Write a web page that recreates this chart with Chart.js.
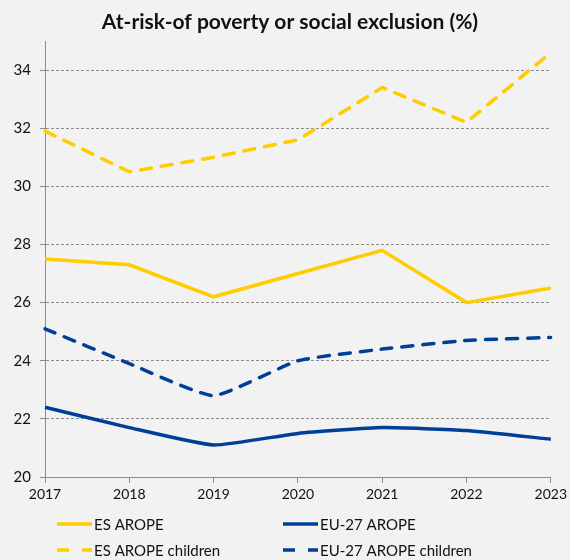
<!DOCTYPE html>
<html>
<head>
<meta charset="utf-8">
<script src="https://cdn.jsdelivr.net/npm/chart.js@4"></script>
<style>
  html, body { margin: 0; padding: 0; background: #f2f2f2; }
  #wrap { width: 570px; height: 560px; }
</style>
</head>
<body>
<div id="wrap"><canvas id="aropeChart" width="570" height="560"></canvas></div>
<script>
// Datos
const years = ['2017', '2018', '2019', '2020', '2021', '2022', '2023'];
const esArope = [27.5, 27.3, 26.2, 27.0, 27.8, 26.0, 26.5];
const euArope = [22.4, 21.7, 21.1, 21.5, 21.7, 21.6, 21.3];
const esAropeChildren = [31.9, 30.5, 31.0, 31.6, 33.4, 32.2, 34.6];
const euAropeChildren = [25.1, 23.9, 22.8, 24.0, 24.4, 24.7, 24.8];
const yTicks = [20, 22, 24, 26, 28, 30, 32, 34];
const chartTitle = 'At-risk-of poverty or social exclusion (%)';

const yellow = '#ffcc00';
const blue = '#003f98';

// Título centrado sobre toda la imagen, como en el original
const titlePlugin = {
    id: 'centeredTitle',
    afterDraw(chart) {
        const ctx = chart.ctx;
        ctx.save();
        ctx.fillStyle = '#111';
        ctx.font = 'bold 21px Lato';
        ctx.textAlign = 'center';
        ctx.textBaseline = 'middle';
        ctx.fillText(chartTitle, 290, 22);
        ctx.restore();
    }
};

// Leyenda dibujada a mano en dos columnas
const legendPlugin = {
    id: 'twoColLegend',
    afterDraw(chart) {
        const ctx = chart.ctx;
        const slots = [
            { x: 57, y: 524 }, { x: 283, y: 524 },
            { x: 57, y: 550 }, { x: 283, y: 550 }
        ];
        chart.data.datasets.forEach((ds, i) => {
            const s = slots[i];
            ctx.save();
            ctx.strokeStyle = ds.borderColor;
            ctx.lineWidth = 3.5;
            ctx.lineCap = 'butt';
            ctx.beginPath();
            if (ds.borderDash && ds.borderDash.length) {
                ctx.moveTo(s.x, s.y); ctx.lineTo(s.x + 12, s.y);
                ctx.moveTo(s.x + 25, s.y); ctx.lineTo(s.x + 35, s.y);
            } else {
                ctx.moveTo(s.x, s.y); ctx.lineTo(s.x + 35, s.y);
            }
            ctx.stroke();
            ctx.fillStyle = '#111';
            ctx.font = '15px Lato';
            ctx.textBaseline = 'middle';
            ctx.fillText(ds.label, s.x + 37, s.y + 1);
            ctx.restore();
        });
    }
};

const config = {
    type: 'line',
    data: {
        labels: years,
        datasets: [{
            label: 'ES AROPE',
            data: esArope,
            borderColor: yellow,
            borderWidth: 3.5,
            tension: 0
        }, {
            label: 'EU-27 AROPE',
            data: euArope,
            borderColor: blue,
            borderWidth: 3.5,
            tension: 0.15
        }, {
            label: 'ES AROPE children',
            data: esAropeChildren,
            borderColor: yellow,
            borderWidth: 3.5,
            borderDash: [11, 10],
            borderCapStyle: 'round',
            tension: 0
        }, {
            label: 'EU-27 AROPE children',
            data: euAropeChildren,
            borderColor: blue,
            borderWidth: 3.5,
            borderDash: [11, 10],
            borderCapStyle: 'round',
            tension: 0.15
        }]
    },
    options: {
        responsive: false,
        animation: false,
        events: [],
        elements: { point: { radius: 0 } },
        layout: { padding: { left: 0, right: 16, top: 41, bottom: 0 } },
        plugins: {
            legend: { display: false },
            tooltip: { enabled: false },
            title: { display: false }
        },
        scales: {
            x: {
                offset: false,
                grid: {
                    drawOnChartArea: false,
                    drawTicks: true,
                    tickLength: 6,
                    color: '#8c8c8c'
                },
                border: { color: '#8c8c8c', width: 1 },
                ticks: {
                    color: '#111',
                    font: { family: 'Lato', size: 14 },
                    padding: 3,
                    maxRotation: 0
                },
                afterFit(scale) { scale.height = 83; }
            },
            y: {
                min: 20,
                max: 35,
                grid: {
                    color: '#8c8c8c',
                    tickLength: 5,
                    lineWidth: 1
                },
                border: { color: '#8c8c8c', width: 1, dash: [3, 2] },
                ticks: {
                    color: '#111',
                    font: { family: 'Lato', size: 15 },
                    padding: 9
                },
                afterBuildTicks(scale) {
                    scale.ticks = yTicks.map(v => ({ value: v }));
                },
                afterFit(scale) { scale.width = 45; }
            }
        }
    },
    plugins: [titlePlugin, legendPlugin]
};

const ctx = document.getElementById('aropeChart').getContext('2d');
new Chart(ctx, config);
</script>
</body>
</html>
